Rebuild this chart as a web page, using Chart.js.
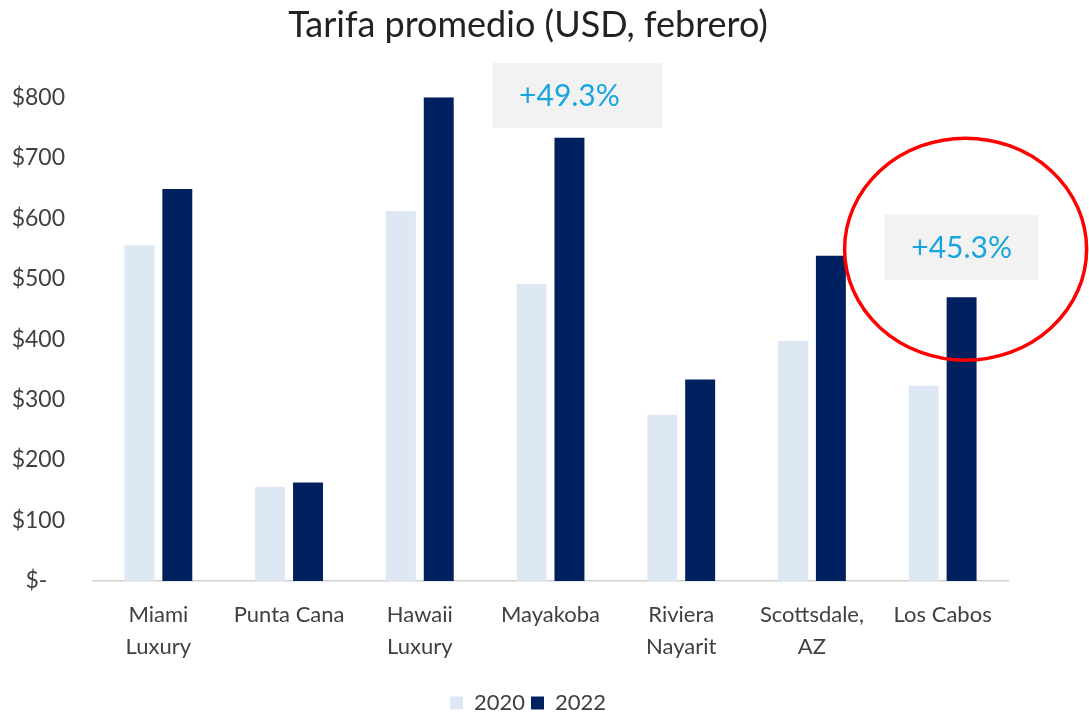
<!DOCTYPE html>
<html>
<head>
<meta charset="utf-8">
<script src="https://cdn.jsdelivr.net/npm/chart.js@4"></script>
<style>
html,body{margin:0;padding:0;background:#fff;}
#wrap{width:1089px;height:714px;position:relative;}
</style>
</head>
<body>
<div id="wrap"><canvas id="c"></canvas></div>
<script>
const categories = [["Miami","Luxury"],"Punta Cana",["Hawaii","Luxury"],"Mayakoba",["Riviera","Nayarit"],["Scottsdale,","AZ"],"Los Cabos"];
const seriesNames = ["2020","2022"];
const values2020 = [555, 156, 612, 491, 275, 397, 323];
const values2022 = [648, 163, 800, 733, 333, 538, 469];
const yTicks = [0,100,200,300,400,500,600,700,800];
const callouts = [
  {index: 3, text: "+49.3%", value: 803, boxW: 170, circle: false},
  {index: 6, text: "+45.3%", value: 552, boxW: 154, circle: true}
];
const FONT = "Lato, 'Liberation Sans', sans-serif";

const calloutPlugin = {
  id: 'callouts',
  afterDatasetsDraw(chart){
    const ctx = chart.ctx;
    const y = chart.scales.y;
    const meta = chart.getDatasetMeta(1);
    callouts.forEach(c => {
      const bar = meta.data[c.index];
      const cx = bar.x;
      const cy = y.getPixelForValue(c.value);
      ctx.save();
      ctx.font = "30px " + FONT;
      const h = 65;
      ctx.fillStyle = "#f2f2f2";
      ctx.fillRect(cx - 77, cy - h/2, c.boxW, h);
      ctx.fillStyle = "#18a5df";
      ctx.textAlign = "center";
      ctx.textBaseline = "middle";
      ctx.fillText(c.text, cx, cy + 1);
      if (c.circle){
        ctx.beginPath();
        ctx.strokeStyle = "#ff0000";
        ctx.lineWidth = 3.5;
        ctx.ellipse(cx + 4, cy + 2, 121, 111, 0, 0, Math.PI*2);
        ctx.stroke();
      }
      ctx.restore();
    });
  }
};

new Chart(document.getElementById('c'), {
  type: 'bar',
  data: {
    labels: categories,
    datasets: [
      {label: seriesNames[0], data: values2020, backgroundColor: "#dde8f4", categoryPercentage: 0.58, barPercentage: 0.79},
      {label: seriesNames[1], data: values2022, backgroundColor: "#002060", categoryPercentage: 0.58, barPercentage: 0.79}
    ]
  },
  options: {
    responsive: true,
    maintainAspectRatio: false,
    animation: false,
    layout: {padding: {left: 0, right: 33, top: 4, bottom: -10}},
    plugins: {
      title: {display: true, text: "Tarifa promedio (USD, febrero)", color: "#222", font: {family: FONT, size: 36, weight: 'normal'}, padding: {top: 0, bottom: 50}},
      legend: {position: 'bottom', labels: {color: "#404040", font: {family: FONT, size: 22}, boxWidth: 13, boxHeight: 13, padding: 6}},
      tooltip: {enabled: false}
    },
    scales: {
      x: {
        afterFit(s){ s.height = 105; },
        grid: {display: false, drawTicks: false},
        border: {display: true, color: "#d0d0d0", width: 1.5},
        ticks: {color: "#404040", font: {family: FONT, size: 22, lineHeight: 1.45}, padding: 18, maxRotation: 0, autoSkip: false}
      },
      y: {
        min: 0, max: 800,
        afterBuildTicks(s){ s.ticks = yTicks.map(v => ({value: v})); },
        afterFit(s){ s.width = 93; },
        grid: {display: false, drawTicks: false},
        border: {display: false},
        ticks: {color: "#404040", font: {family: FONT, size: 23}, padding: 28,
          callback: v => v === 0 ? "$-   " : "$" + v}
      },
      yr: {
        position: 'right',
        display: true,
        afterFit(s){ s.width = 48; },
        grid: {display: false, drawTicks: false},
        border: {display: false},
        ticks: {display: false}
      }
    }
  },
  plugins: [calloutPlugin]
});
</script>
</body>
</html>
